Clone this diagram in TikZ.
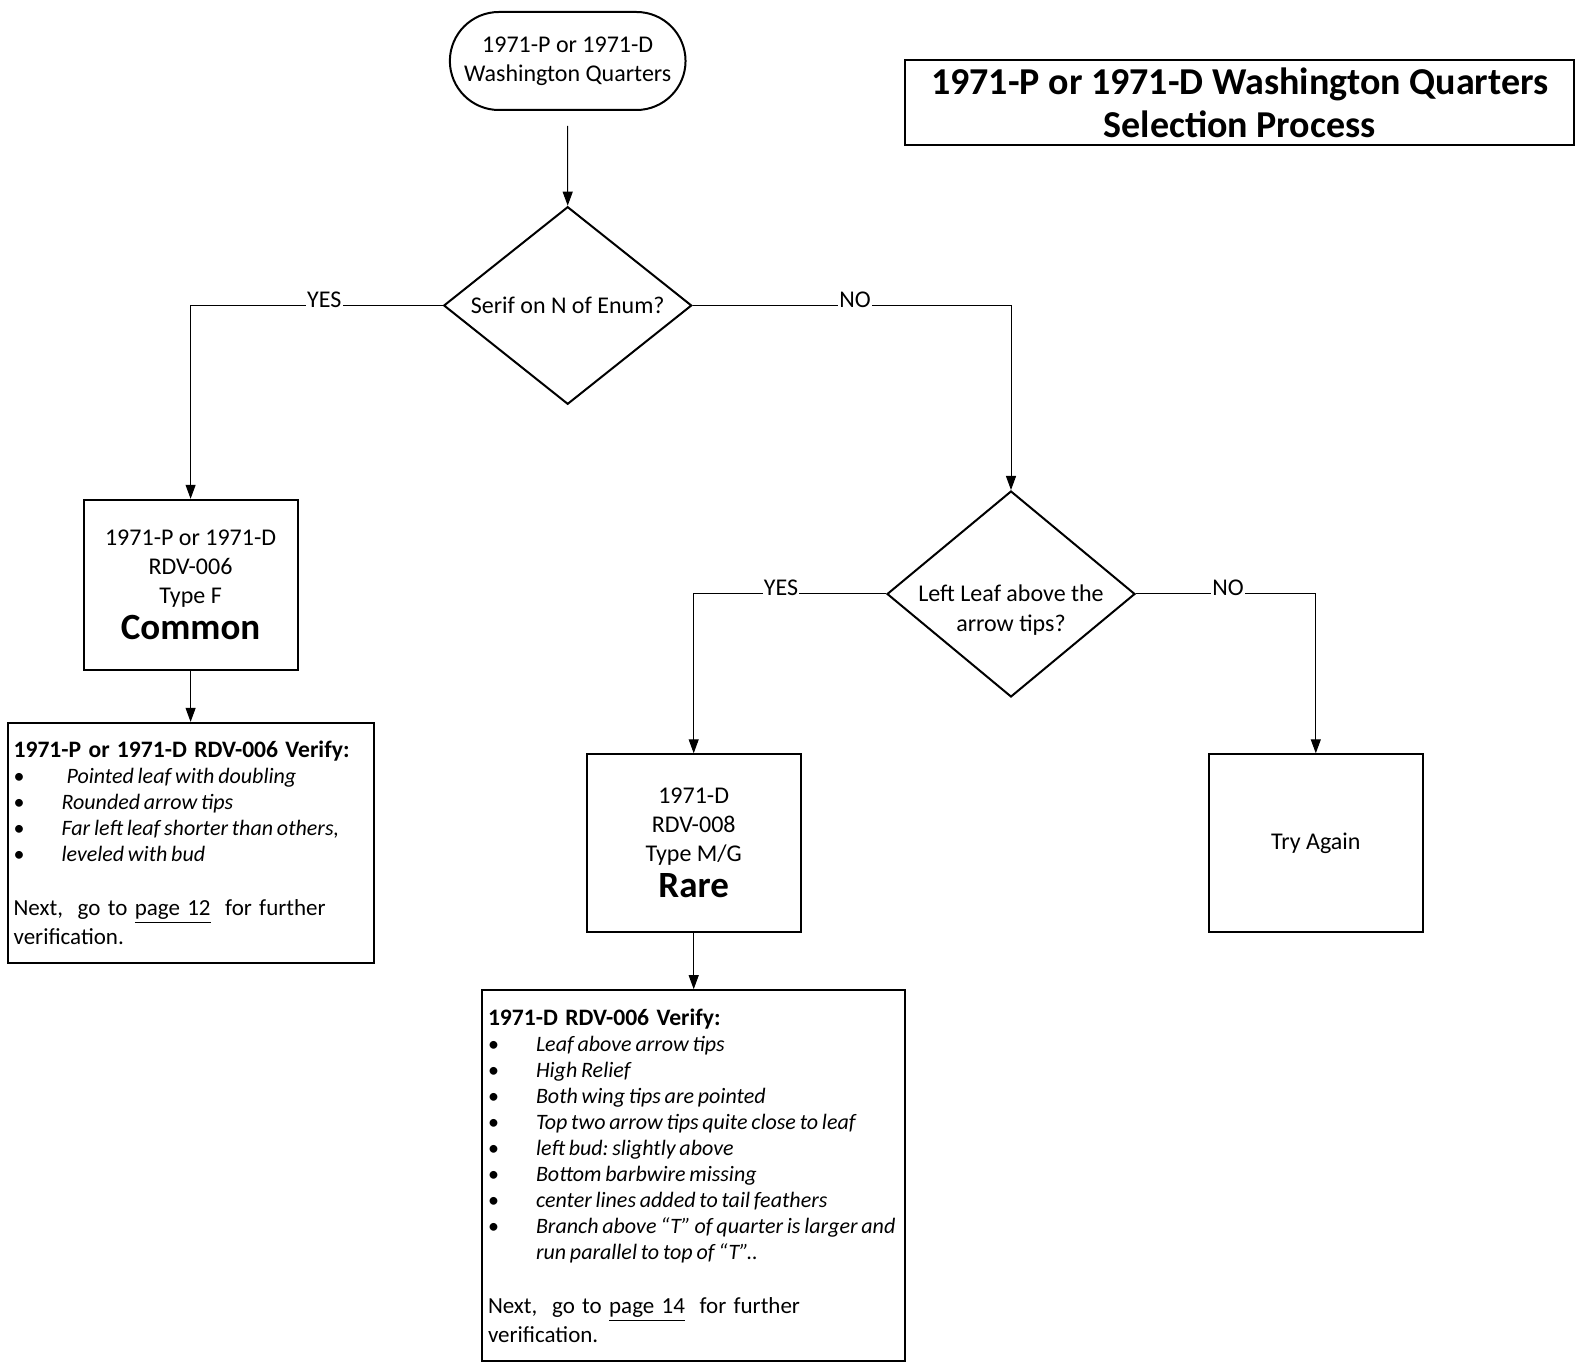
\documentclass[tikz,border=0pt]{standalone}
\usepackage{fontspec}
\setmainfont{Carlito}
\usepackage{tikz}
\usetikzlibrary{shapes, shapes.geometric, shapes.misc, arrows.meta, positioning}
\newcommand{\vitem}[1]{\makebox[24pt][l]{\textbullet}{\spaceskip=1.9pt plus 0.5pt\textit{#1}}}
\newcommand{\nextpage}[1]{{\fontsize{11.5}{14.5}\selectfont Next,\ \ go to \underline{page #1}\ \ for further}\\[1.6pt]{\fontsize{11.5}{14.5}\selectfont verification.}}
\newcommand{\lowtext}[1]{\raisebox{-4pt}[0pt][0pt]{\begin{tabular}[t]{@{}c@{}}#1\end{tabular}}}

\begin{document}
\begin{tikzpicture}
  [x=0.5pt, y=-0.5pt,
    Terminal/.style={rounded rectangle, draw=black, line width=1pt, minimum width=124.5pt, minimum height=49pt, align=center, font=\fontsize{12}{14.6}\selectfont},
    Decision/.style={diamond, draw=black, line width=1pt, inner sep=0pt, align=center, font=\fontsize{12}{15}\selectfont},
    Box/.style={rectangle, draw=black, line width=1pt, minimum width=106.9pt, align=center, font=\fontsize{12}{14.4}\selectfont},
    Note/.style={rectangle, draw=black, line width=1pt, inner xsep=3pt, align=left, font=\fontsize{11}{13}\selectfont\frenchspacing},
    Title/.style={rectangle, draw=black, line width=1pt, minimum width=334.3pt, minimum height=42.3pt, align=center, font=\fontsize{19}{21.7}\selectfont\bfseries},
    Arrow/.style={-{Triangle[length=7pt, width=5pt]}, line width=0.5pt},
    Label/.style={fill=white, inner sep=0.6pt, anchor=base, yshift=-1pt, font=\fontsize{12}{14}\selectfont}
  ]
  \useasboundingbox (0,0) rectangle (1581,1363);
  % Nodes
  \node[Title] (title) at (1239.7, 102.8) {1971-P or 1971-D Washington Quarters\\Selection Process};
  \node[Terminal] (start) at (567.7, 61) {1971-P or 1971-D\\Washington Quarters};
  \node[Decision, minimum width=124pt, minimum height=98.8pt] (serif) at (567.7, 305.5) {\lowtext{Serif on N of Enum?}};
  \node[Box, minimum height=85.2pt] (common) at (190.6, 585) {1971-P or 1971-D\\RDV-006\\Type F\\[4pt]{\fontsize{18.5}{22}\selectfont\bfseries Common}};
  \node[Note, text width=177pt, minimum height=120pt] (verifyP) at (190.6, 842.9) {%
    \textbf{\fontsize{11.8}{13}\selectfont 1971-P or 1971-D RDV-006 Verify:}\\
    \vitem{\hspace{2.5pt}Pointed leaf with doubling}\\
    \vitem{Rounded arrow tips}\\
    \vitem{Far left leaf shorter than others,}\\
    \vitem{leveled with bud}\\[14pt]
    \nextpage{12}};
  \node[Decision, minimum width=124pt, minimum height=103pt] (leaf) at (1011, 594) {\lowtext{Left Leaf above the\\arrow tips?}};
  \node[Box, minimum height=88.7pt] (rare) at (693.7, 843) {1971-D\\RDV-008\\Type M/G\\[4pt]{\fontsize{18.5}{22}\selectfont\bfseries Rare}};
  \node[Box, minimum height=88.7pt] (again) at (1315.8, 843) {Try Again};
  \node[Note, text width=205.7pt, minimum height=185.5pt] (verifyD) at (693.7, 1175.7) {%
    \textbf{\fontsize{11.8}{13}\selectfont 1971-D RDV-006 Verify:}\\
    \vitem{Leaf above arrow tips}\\
    \vitem{High Relief}\\
    \vitem{Both wing tips are pointed}\\
    \vitem{Top two arrow tips quite close to leaf}\\
    \vitem{left bud: slightly above}\\
    \vitem{Bottom barbwire missing}\\
    \vitem{center lines added to tail feathers}\\
    \vitem{Branch above “T” of quarter is larger and}\\
    \hspace*{24pt}{\spaceskip=1.9pt plus 0.5pt\textit{run parallel to top of “T”..}}\\[14pt]
    \nextpage{14}};
  % Lines
  \draw[Arrow, shorten <=7.5pt] (start) -- (serif);
  \draw[Arrow] (serif.west) -| node[Label, pos=0.235] {YES} (common.north);
  \draw[Arrow] (serif.east) -| node[Label, pos=0.255] {NO} (leaf.north);
  \draw[Arrow] (common) -- (verifyP);
  \draw[Arrow] (leaf.west) -| node[Label, pos=0.273] {YES} (rare.north);
  \draw[Arrow] (leaf.east) -| node[Label, pos=0.256] {NO} (again.north);
  \draw[Arrow] (rare) -- (verifyD);
\end{tikzpicture}
\end{document}
